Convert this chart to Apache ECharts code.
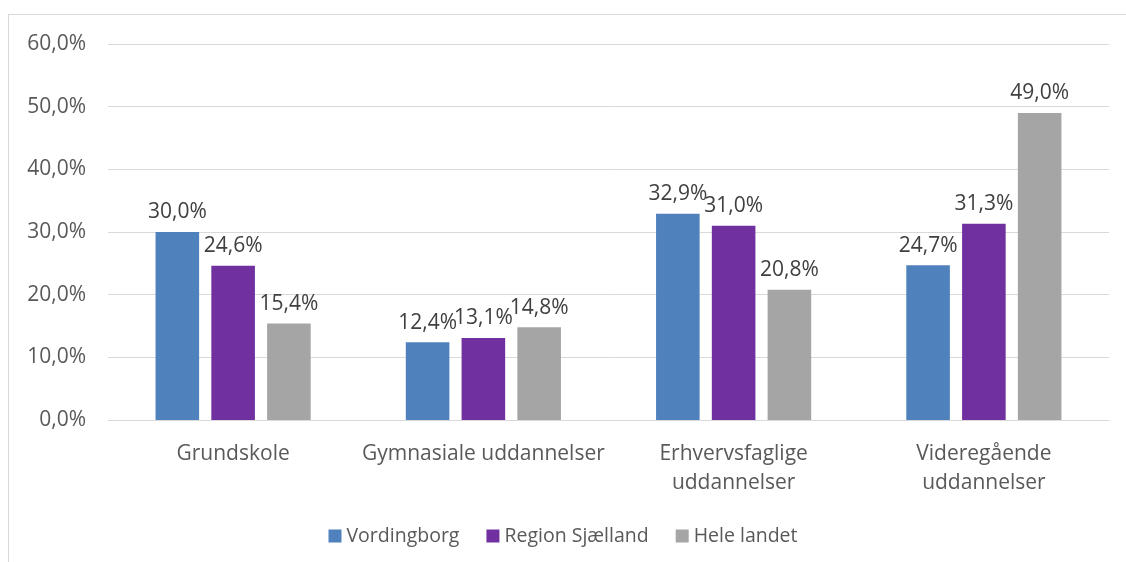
<!DOCTYPE html>
<html>
<head>
<meta charset="utf-8">
<script src="https://cdn.jsdelivr.net/npm/echarts@6/dist/echarts.min.js"></script>
<style>
  html, body { margin: 0; padding: 0; background: #fff; }
  #wrap { position: relative; width: 1126px; height: 562px; overflow: hidden; }
  /* kant rundt om diagrammet (kun venstre og top synlig) */
  #frame { position: absolute; left: 8px; top: 14px; width: 1200px; height: 600px; border: 1px solid #d9d9d9; }
  #chart { position: absolute; left: 0; top: 0; width: 1126px; height: 562px; }
</style>
</head>
<body>
<div id="wrap">
  <div id="frame"></div>
  <div id="chart"></div>
</div>
<script>
// Kategorier og værdier (procent)
const categories = ['Grundskole', 'Gymnasiale uddannelser', 'Erhvervsfaglige\nuddannelser', 'Videregående\nuddannelser'];
const seriesNames = ['Vordingborg', 'Region Sjælland', 'Hele landet'];
const vordingborg = [30.0, 12.4, 32.9, 24.7];
const regionSjaelland = [24.6, 13.1, 31.0, 31.3];
const heleLandet = [15.4, 14.8, 20.8, 49.0];
const yTicks = [0, 10, 20, 30, 40, 50, 60];

const colors = ['#4F81BD', '#7030A0', '#A5A5A5'];
const font = 'Open Sans';
const fs = 21;
const pct = v => v.toFixed(1).replace('.', ',') + '%';

function bar(name, data, color) {
  return {
    name, type: 'bar', data,
    barGap: '28%', barCategoryGap: '38%',
    itemStyle: { color },
    label: {
      show: true, position: 'top', distance: 9,
      color: '#404040', fontSize: fs, fontFamily: font,
      formatter: p => pct(p.value),
    },
  };
}

const chart = echarts.init(document.getElementById('chart'));
chart.setOption({
  animation: false,
  color: colors,
  grid: { left: 108, right: 17, top: 44, bottom: 142, containLabel: false },
  xAxis: {
    type: 'category', data: categories,
    axisLine: { lineStyle: { color: '#d9d9d9', width: 1 } },
    axisTick: { show: false },
    axisLabel: { color: '#595959', fontSize: fs, fontFamily: font, margin: 20, lineHeight: 29, interval: 0 },
  },
  yAxis: {
    type: 'value', min: yTicks[0], max: yTicks[yTicks.length - 1], interval: 10,
    axisLine: { show: false }, axisTick: { show: false },
    splitLine: { lineStyle: { color: '#d9d9d9', width: 1 } },
    axisLabel: { color: '#595959', fontSize: fs, fontFamily: font, margin: 22, formatter: v => pct(v) },
  },
  legend: {
    bottom: 11, left: 'center', itemWidth: 13, itemHeight: 13, itemGap: 27,
    icon: 'rect',
    textStyle: { color: '#595959', fontSize: 19.5, fontFamily: font },
    data: seriesNames,
  },
  series: [
    bar(seriesNames[0], vordingborg, colors[0]),
    bar(seriesNames[1], regionSjaelland, colors[1]),
    bar(seriesNames[2], heleLandet, colors[2]),
  ],
});
</script>
</body>
</html>
